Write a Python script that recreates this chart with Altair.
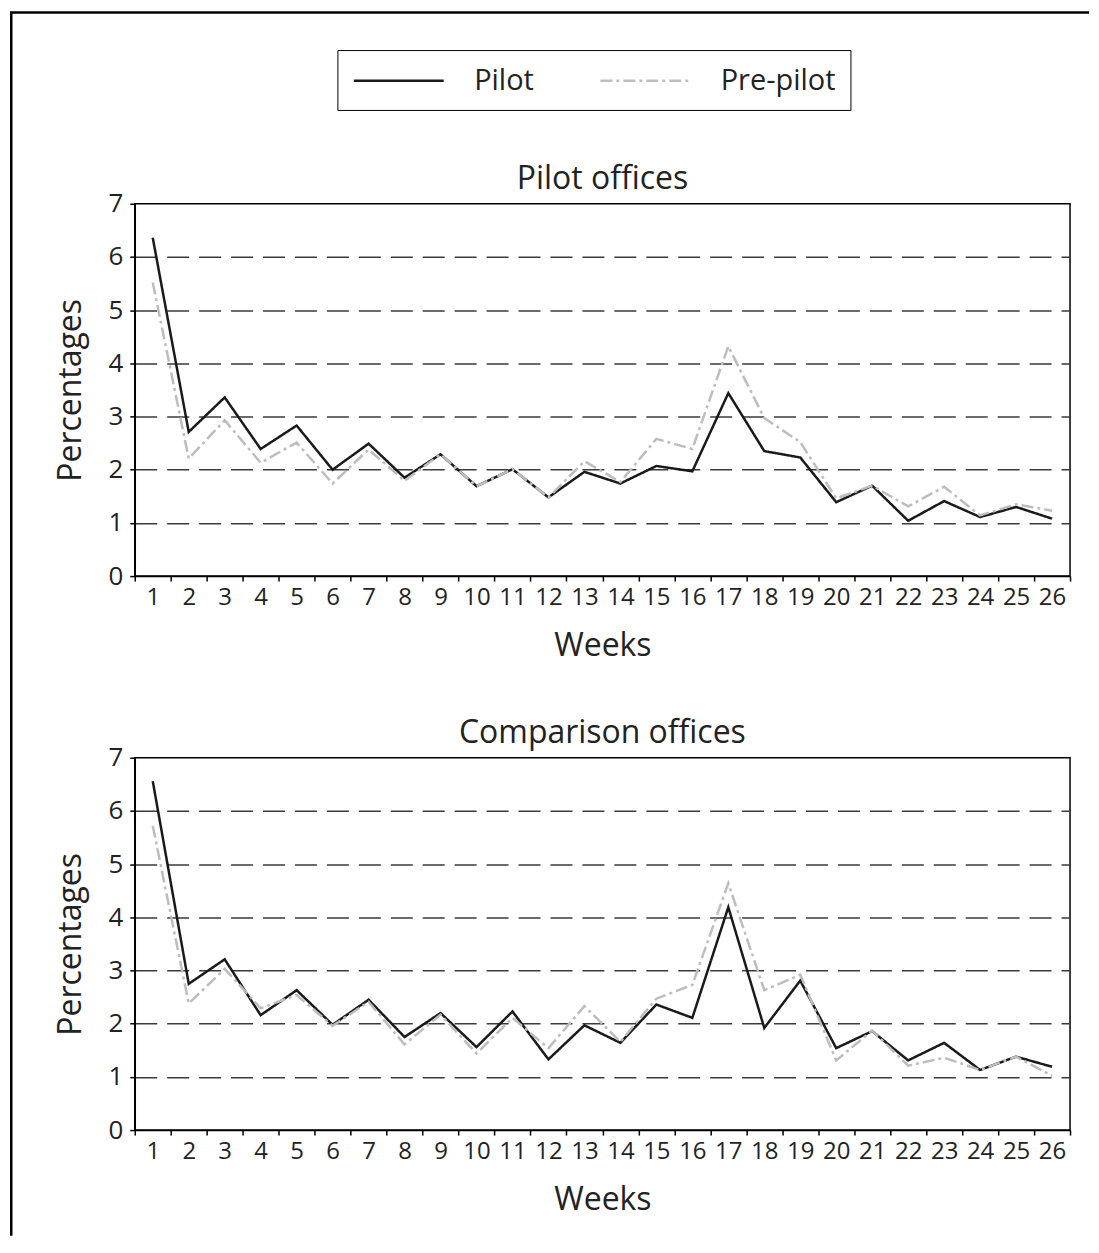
import altair as alt
import pandas as pd

weeks = list(range(1, 27))
series_names = ["Pilot", "Pre-pilot"]

pilot_offices_pilot = [6.36, 2.71, 3.36, 2.39, 2.83, 2.00, 2.49, 1.85, 2.29, 1.69, 2.01, 1.48, 1.96,
                       1.74, 2.07, 1.97, 3.44, 2.35, 2.23, 1.39, 1.70, 1.04, 1.41, 1.11, 1.30, 1.08]
pilot_offices_pre = [5.52, 2.21, 2.93, 2.13, 2.51, 1.74, 2.38, 1.79, 2.29, 1.69, 2.01, 1.48, 2.16,
                     1.77, 2.58, 2.39, 4.32, 2.97, 2.52, 1.46, 1.70, 1.31, 1.68, 1.14, 1.35, 1.23]
comparison_offices_pilot = [6.56, 2.75, 3.21, 2.16, 2.63, 1.98, 2.45, 1.75, 2.20, 1.56, 2.23, 1.33, 1.97,
                            1.64, 2.36, 2.11, 4.19, 1.92, 2.81, 1.54, 1.86, 1.31, 1.64, 1.13, 1.38, 1.19]
comparison_offices_pre = [5.72, 2.38, 3.03, 2.29, 2.54, 1.96, 2.41, 1.61, 2.17, 1.44, 2.11, 1.54, 2.33,
                          1.66, 2.47, 2.73, 4.64, 2.63, 2.92, 1.31, 1.87, 1.21, 1.36, 1.13, 1.38, 1.02]
y_ticks = [0, 1, 2, 3, 4, 5, 6, 7]
panel_titles = ["Pilot offices", "Comparison offices"]

FONT = "Open Sans"
TXT = "#222222"
W, H = 937, 373
GAP = 182


def make_df(a, b):
    rows = []
    for w, v in zip(weeks, a):
        rows.append({"week": w, "series": series_names[0], "value": v})
    for w, v in zip(weeks, b):
        rows.append({"week": w, "series": series_names[1], "value": v})
    return pd.DataFrame(rows)


legend = alt.Legend(title=None, orient="none", legendX=203, legendY=29,
                    direction="horizontal", strokeColor="black",
                    padding=14, symbolType="M-3,0H3", symbolSize=900, symbolStrokeWidth=2.5,
                    symbolOffset=31,
                    labelFont=FONT, labelFontSize=29, labelColor=TXT,
                    labelOffset=59, columnPadding=61)


def panel(df, title):
    x = alt.X("week:O",
              scale=alt.Scale(type="band", paddingInner=0, paddingOuter=0),
              axis=alt.Axis(title="Weeks", labelAngle=0, tickBand="extent",
                            labelFont=FONT, labelFontSize=24, labelColor=TXT, labelPadding=4,
                            titleFont=FONT, titleFontSize=32, titleFontWeight="normal",
                            titleColor=TXT, titlePadding=22,
                            tickSize=5, tickColor="black", tickWidth=1.5,
                            domainColor="black", domainWidth=1.5, grid=False))
    y = alt.Y("value:Q",
              scale=alt.Scale(domain=[0, 7], nice=False, zero=True),
              axis=alt.Axis(title="Percentages", values=y_ticks,
                            labelFont=FONT, labelFontSize=26, labelColor=TXT, labelPadding=7,
                            titleFont=FONT, titleFontSize=32, titleFontWeight="normal",
                            titleColor=TXT, titlePadding=20,
                            tickSize=5, tickColor="black", tickWidth=1.5,
                            domainColor="black", domainWidth=1.5,
                            grid=True, gridColor="#3a3a3a", gridWidth=1.5, gridDash=[22, 10],
                            gridOpacity={"condition": {"test": "datum.value == 0 || datum.value == 7",
                                                       "value": 0}, "value": 1}))
    color = alt.Color("series:N", sort=series_names,
                      scale=alt.Scale(domain=series_names, range=["#1a1a1a", "#bdbdbd"]),
                      legend=legend)
    dash = alt.StrokeDash("series:N", sort=series_names,
                          scale=alt.Scale(domain=series_names, range=[[1, 0], [12, 4, 3, 4]]),
                          legend=legend)
    return alt.Chart(df).mark_line(strokeWidth=2.5).encode(
        x=x, y=y, color=color, strokeDash=dash
    ).properties(
        width=W, height=H,
        title=alt.TitleParams(text=title, font=FONT, fontSize=32, fontWeight="normal",
                              color=TXT, offset=-5))


# decorative outer frame (left and top edges), drawn in a thin cell above the first panel
frame_df = pd.DataFrame({"k": [0]})
fy = -191.75 + GAP + 1
left_frame = alt.Chart(frame_df).mark_rule(color="black", strokeWidth=2.5).encode(
    x=alt.value(-123.75), y=alt.value(fy), y2=alt.value(1034 + GAP + 1))
top_frame = alt.Chart(frame_df).mark_rule(color="black", strokeWidth=2.5).encode(
    x=alt.value(-125), x2=alt.value(956), y=alt.value(fy))
frame_cell = alt.layer(left_frame, top_frame).properties(
    width=W, height=1, view=alt.ViewBackground(strokeOpacity=0))

top = panel(make_df(pilot_offices_pilot, pilot_offices_pre), panel_titles[0])
bottom = panel(make_df(comparison_offices_pilot, comparison_offices_pre), panel_titles[1])

chart = alt.vconcat(frame_cell, top, bottom, spacing=GAP, bounds="flush").properties(
    padding={"left": 0, "top": 2, "right": 0, "bottom": 0},
    background="white"
).configure_view(stroke="black", strokeWidth=1.5)

chart.save("out.html", embed_options={"renderer": "svg", "actions": False})
